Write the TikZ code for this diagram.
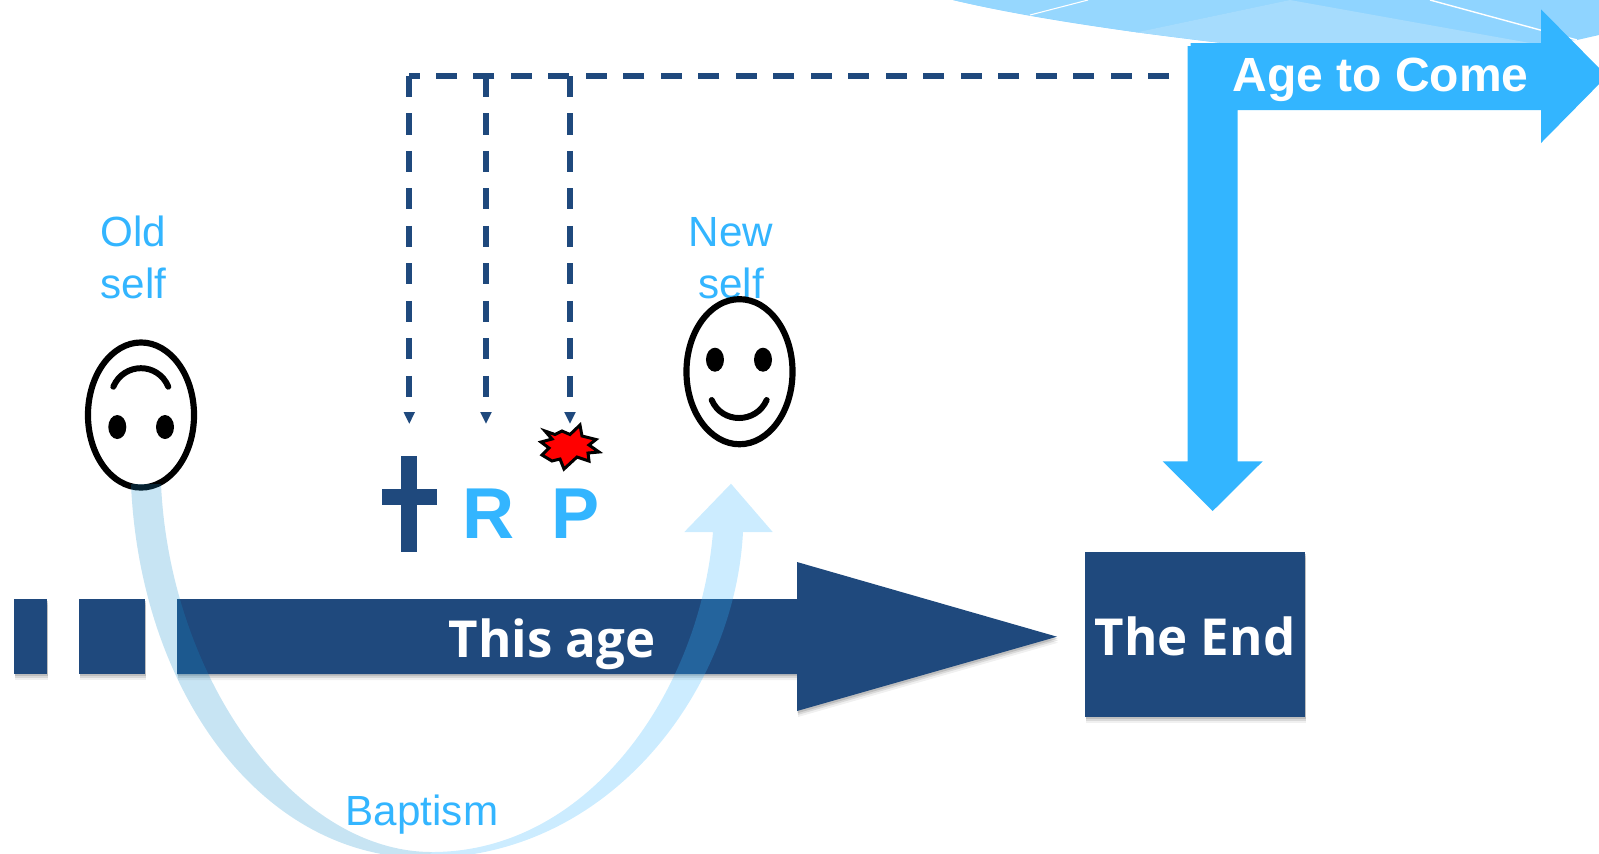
\documentclass[tikz,border=0pt]{standalone}
\usepackage{fontspec}
\usepackage{xcolor}
\usetikzlibrary{shapes.geometric, arrows.meta, shadows}
\setmainfont{Liberation Sans}
\newfontfamily\agefont{Open Sans}
\definecolor{navy}{HTML}{1F497D}
\definecolor{sky}{HTML}{33B5FF}
\definecolor{sink}{HTML}{158ECC}
\tikzstyle{softshadow} = [drop shadow={shadow xshift=0.2pt,shadow yshift=-0.6pt,opacity=0.3}, drop shadow={shadow xshift=0.25pt,shadow yshift=-1.1pt,opacity=0.2}, drop shadow={shadow xshift=0.3pt,shadow yshift=-1.7pt,opacity=0.12}]
\tikzstyle{stub} = [rectangle, inner sep=0pt, minimum height=0.75cm, fill=navy, softshadow]
\tikzstyle{endbox} = [rectangle, inner sep=0pt, minimum width=2.2cm, minimum height=1.65cm, fill=navy, softshadow]
\tikzstyle{agetext} = [inner sep=0pt, text=white, font=\agefont\bfseries\fontsize{14.5}{18}\selectfont]
\tikzstyle{selftext} = [inner sep=0pt, text=sky, align=center, font=\fontsize{12}{14.8}\selectfont]
\tikzstyle{letter} = [inner sep=0pt, anchor=base, text=sky, font=\bfseries\fontsize{20.5}{25}\selectfont]
\tikzstyle{face} = [ellipse, draw=black, fill=white, line width=1.75pt, inner sep=0pt, minimum width=1.06cm, minimum height=1.45cm]
\tikzstyle{eye} = [ellipse, fill=black, inner sep=0pt, minimum width=0.18cm, minimum height=0.24cm]
\tikzstyle{mouth} = [line width=1.7pt, line cap=round]
\tikzstyle{droparrow} = [draw=navy, line width=1.6pt, dash pattern=on 0.21cm off 0.1645cm, -{Triangle[length=3.4pt,width=3pt]}]
\tikzstyle{dropline} = [draw=navy, line width=1.6pt, dash pattern=on 0.21cm off 0.1645cm]

\begin{document}
\begin{tikzpicture}[x=0.01cm,y=-0.01cm]
        \useasboundingbox (0,0) rectangle (1599,853);
        \clip (0,0) rectangle (1599,853);

        % facets at the top
        \fill[color={rgb,255:red,143;green,212;blue,255}] (953,0) .. controls (1020,16) and (1110,30) .. (1230,44) -- (1530,44) -- (1577,40) -- (1599,35) -- (1599,0) -- cycle;
        \fill[color={rgb,255:red,150;green,215;blue,254}] (953,0) .. controls (1000,11) and (1060,21) .. (1136.7,32.3) -- (1290,0) -- cycle;
        \fill[color={rgb,255:red,166;green,220;blue,253}] (1136.7,32.3) -- (1290,0) -- (1530,43) -- (1230,44) -- cycle;
        \draw[white,line width=0.3pt] (1030,15) -- (1088,0);
        \draw[white,line width=0.4pt] (1430,0) -- (1577,40);

        % age to come
        \fill[sky] (1187.7,46) -- (1190.7,46) -- (1190.7,43) -- (1541,43) -- (1541,9.3) -- (1607,76) -- (1541,143) -- (1541,110) -- (1237.7,110) -- (1237.7,461.3) -- (1262.7,461.3) -- (1212.7,511) -- (1162.7,461.3) -- (1187.7,461.3) -- cycle;
        \node[inner sep=0pt,anchor=base,text=white,font=\bfseries\fontsize{13.65}{16}\selectfont](come) at (1380.5,91.5){Age to Come};

        % this age
        \node[stub,minimum width=0.33cm](stuba) at (30.5,636.5){};
        \node[stub,minimum width=0.66cm](stubb) at (112,636.5){};
        \fill[navy,softshadow] (177,599) -- (797,599) -- (797,562) -- (1057,636.7) -- (797,711) -- (797,674) -- (177,674) -- cycle;
        \node[agetext,anchor=base](thisage) at (552,657.5){This age};
        \node[endbox](theend) at (1195,634.3){};
        \node[agetext,anchor=base](endtext) at (1195,655){The End};

        % labels and faces
        \node[selftext](oldlabel) at (133.5,257){Old\\self};
        \node[selftext](newlabel) at (731,258){New\\self};
        \node[face](oldface) at (141,415){};
        \node[eye,xshift=-0.237cm,yshift=-0.12cm](oldeyea) at (oldface){};
        \node[eye,xshift=0.24cm,yshift=-0.12cm](oldeyeb) at (oldface){};
        \draw[mouth] (113.3,386.7) .. controls (124,362) and (158,362) .. (168.3,386.7);
        \node[face](newface) at (739.5,371.7){};
        \node[eye,xshift=-0.245cm,yshift=0.12cm](neweyea) at (newface){};
        \node[eye,xshift=0.235cm,yshift=0.12cm](neweyeb) at (newface){};
        \draw[mouth] (711.7,400) .. controls (722,424) and (756,424) .. (766.7,400);

        % cross, R, P
        \fill[navy] (401,456) rectangle (417.3,552);
        \fill[navy] (381.7,489) rectangle (436.7,505);
        \coordinate (crosstop) at (409.3,424);
        \node[letter](rletter) at (489,538.5){R};
        \node[letter](pletter) at (575.7,538.5){P};
        \coordinate (rtop) at (486,424);
        \coordinate (ptop) at (570,424);
        \draw[fill=red,line width=0.85pt] (545,431) -- (555,434.5) -- (562,431) -- (570,434.5) -- (580,425) -- (582,436) -- (596,439.5) -- (589,445) -- (599,452) -- (588,453) -- (589,461) -- (577,457) -- (564,469) -- (560,459) -- (552,461) -- (542,455) -- (549,448) -- (541,442) -- (552,439) -- cycle;

        % dashed lines
        \coordinate (dashstart) at (1169,76);
        \coordinate (crosscorner) at (409.3,76);
        \coordinate (rcorner) at (486,76);
        \coordinate (pcorner) at (570,76);
        \draw[dropline] (dashstart) -- (crosscorner);
        \draw[droparrow] (crosscorner) -- (crosstop);
        \draw[droparrow] (rcorner) -- (rtop);
        \draw[droparrow] (pcorner) -- (ptop);

        % baptism
        \fill[sink,opacity=0.24] (131,484) .. controls (140,690) and (260,858) .. (425,858) -- (432,852) .. controls (295,852) and (170,680) .. (161,484) -- cycle;
        \fill[sky,opacity=0.25] (425,858) .. controls (610,858) and (735,690) .. (743,532) -- (772.7,532) -- (731,483.7) -- (684.3,532) -- (713,532) .. controls (700,690) and (590,852) .. (432,852) -- cycle;
        \node[inner sep=0pt,anchor=base,text=sky,font=\fontsize{12}{14}\selectfont](baptism) at (422,825.7){Baptism};
\end{tikzpicture}
\end{document}
